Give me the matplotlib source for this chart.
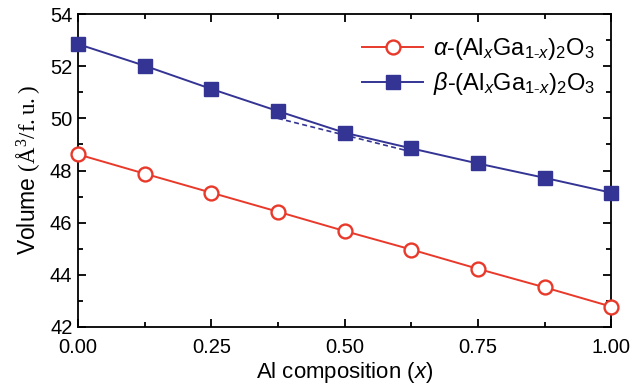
import matplotlib
matplotlib.use("Agg")
import matplotlib.pyplot as plt
from matplotlib.ticker import MultipleLocator

plt.rcParams['font.family'] = ['Liberation Sans', 'DejaVu Sans']
plt.rcParams['mathtext.fontset'] = 'custom'
plt.rcParams['mathtext.rm'] = 'Liberation Serif'
plt.rcParams['mathtext.sf'] = 'Liberation Sans'
plt.rcParams['mathtext.it'] = 'Liberation Sans:italic'

x_comp = [0.0, 0.125, 0.25, 0.375, 0.5, 0.625, 0.75, 0.875, 1.0]
alpha_vol = [48.62, 47.88, 47.15, 46.42, 45.68, 44.97, 44.23, 43.52, 42.78]
beta_vol = [52.85, 52.02, 51.13, 50.28, 49.45, 48.85, 48.27, 47.72, 47.15]
dash_x = [0.375, 0.625]
dash_y = [50.0, 48.72]

red = '#E8392A'
blue = '#343494'

fig = plt.figure(figsize=(6.34, 3.92), dpi=100)
ax = fig.add_axes([0.123, 0.166, 0.841, 0.798])

ax.plot(x_comp, alpha_vol, '-o', color=red, lw=1.4, ms=10, mfc='white', mec=red, mew=1.7,
        label=r'$\alpha$-(Al$_x$Ga$_{\mathsf{1}\text{-}x}$)$_\mathsf{2}$O$_\mathsf{3}$', clip_on=False, zorder=3)
ax.plot(x_comp, beta_vol, '-s', color=blue, lw=1.4, ms=10, mfc=blue, mec=blue,
        label=r'$\beta$-(Al$_x$Ga$_{\mathsf{1}\text{-}x}$)$_\mathsf{2}$O$_\mathsf{3}$', clip_on=False, zorder=3)
ax.plot(dash_x, dash_y, '--', color=blue, lw=1.2, dashes=(3, 2), zorder=2)

ax.set_xlim(0, 1)
ax.set_ylim(42, 54)
ax.xaxis.set_minor_locator(MultipleLocator(0.125))
ax.yaxis.set_major_locator(MultipleLocator(2))
ax.yaxis.set_minor_locator(MultipleLocator(1))
ax.set_xticks([0, 0.25, 0.5, 0.75, 1.0])
ax.set_xticklabels(['0.00', '0.25', '0.50', '0.75', '1.00'])
ax.tick_params(which='both', direction='in', top=True, right=True, width=1.3, labelsize=14.5)
ax.tick_params(axis='x', pad=8)
ax.tick_params(axis='y', pad=4)
ax.tick_params(which='major', length=6)
ax.tick_params(which='minor', length=3.5)
for s in ax.spines.values():
    s.set_linewidth(1.3)

ax.set_xlabel(r'Al composition ($x$)', fontsize=16, labelpad=2)
ax.set_ylabel(r'Volume $\mathrm{(\AA^3/f.u.)}$', fontsize=16.5, labelpad=6)

leg = ax.legend(loc='upper right', fontsize=17, frameon=False, handlelength=2.6,
                borderaxespad=0.4, labelspacing=0.35, handletextpad=0.4,
                bbox_to_anchor=(1.005, 0.99))

fig.savefig('out.png', dpi=100)
